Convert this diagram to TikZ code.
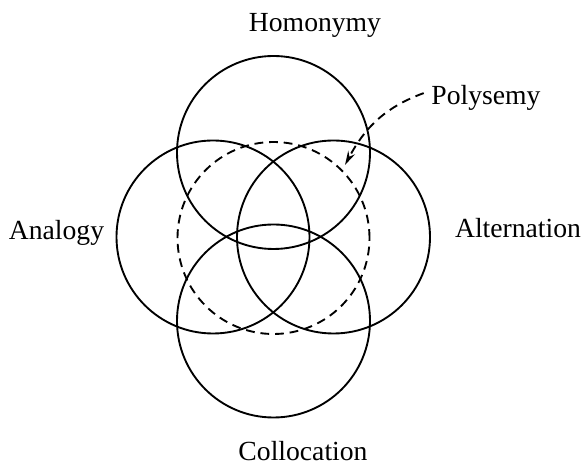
\documentclass[tikz,border=0pt]{standalone}
\usepackage{fontspec}
\setmainfont{Liberation Serif}
\usetikzlibrary{arrows.meta}
\begin{document}
\begin{tikzpicture}[>={Stealth[length=12pt,width=6.5pt,inset=4pt]},line width=1.6pt,
  font=\fontsize{23.6}{28}\selectfont]
  \useasboundingbox (0,0) rectangle (17.58,13.98);
  \coordinate (T) at (8.205,9.405);
  \coordinate (L) at (6.39,6.87);
  \coordinate (R) at (10.005,6.87);
  \coordinate (B) at (8.205,4.35);
  \coordinate (P) at (8.205,6.84);
  \coordinate (tip) at (10.35,9.03);

  \draw (T) circle (2.895);
  \draw (L) circle (2.895);
  \draw (R) circle (2.895);
  \draw (B) circle (2.895);
  \draw[dash pattern=on 7.5pt off 5pt] (P) circle (2.88);

  \node[anchor=base] (homonymy) at (9.45,13.02) {Homonymy};
  \node[anchor=base] (analogy) at (1.695,6.78) {Analogy};
  \node[anchor=base] (alternation) at (15.54,6.84) {Alternation};
  \node[anchor=base,inner sep=1pt] (collocation) at (9.09,0.16) {Collocation};
  \node[anchor=base] (polysemy) at (14.58,10.83) {Polysemy};

  \draw[->,dash pattern=on 7.5pt off 5pt] ([shift={(-2.5pt,4.5pt)}]polysemy.west) to[out=200,in=62] (tip);
\end{tikzpicture}
\end{document}
